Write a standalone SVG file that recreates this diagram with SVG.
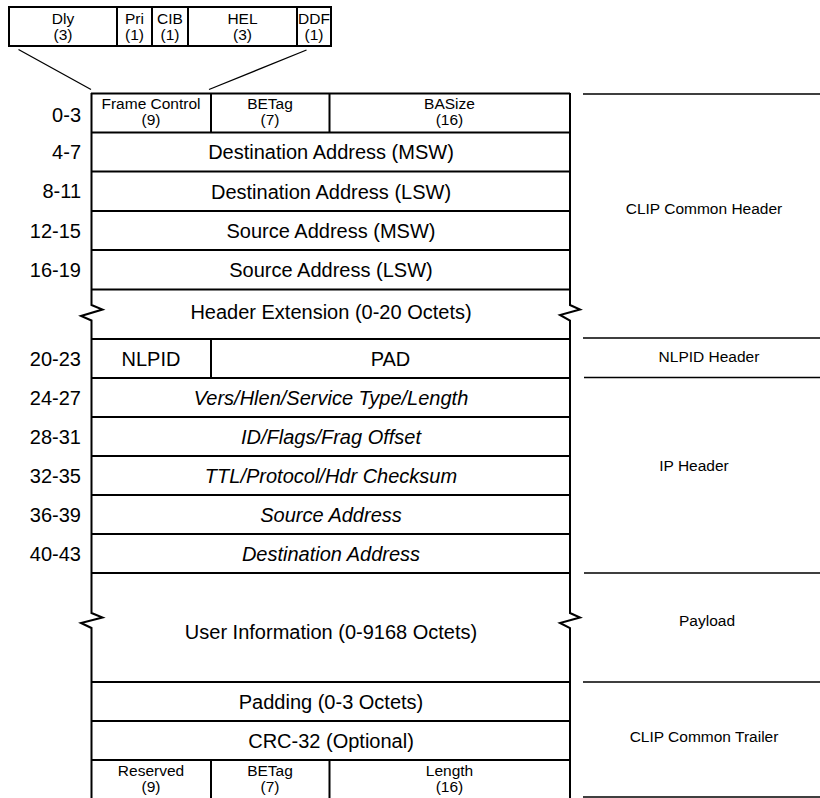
<svg xmlns="http://www.w3.org/2000/svg" width="820" height="798" viewBox="0 0 820 798">
  <style>
    .ln { fill: none; stroke: #000; stroke-width: 2; }
    .thin { fill: none; stroke: #000; stroke-width: 1.3; }
    .sec { fill: none; stroke: #000; stroke-width: 1.6; }
    text { font-family: "Liberation Sans", Arial, sans-serif; fill: #000; }
    .big { font-size: 20px; text-anchor: middle; }
    .it { font-style: italic; }
    .sm { font-size: 15.5px; text-anchor: middle; }
    .off { font-size: 20px; text-anchor: end; }
    .lbl { font-size: 15.5px; text-anchor: middle; }
  </style>

  <!-- Frame Control bit breakdown -->
  <g id="frame-control-bits">
    <rect class="ln" x="9" y="7" width="322" height="39"/>
    <path class="ln" d="M117,7 V46 M152,7 V46 M188,7 V46 M297,7 V46"/>
    <text class="sm" x="63" y="24">Dly</text>
    <text class="sm" x="63" y="40">(3)</text>
    <text class="sm" x="134.5" y="24">Pri</text>
    <text class="sm" x="134.5" y="40">(1)</text>
    <text class="sm" x="170" y="24">CIB</text>
    <text class="sm" x="170" y="40">(1)</text>
    <text class="sm" x="242.5" y="24">HEL</text>
    <text class="sm" x="242.5" y="40">(3)</text>
    <text class="sm" x="314" y="24">DDF</text>
    <text class="sm" x="314" y="40">(1)</text>
  </g>

  <!-- expansion lines from the Frame Control field -->
  <g id="connectors">
    <path class="thin" d="M18.5,49.5 L91,89.5"/>
    <path class="thin" d="M306.5,50 L209,89.5"/>
  </g>

  <!-- packet frame: outer edges with break marks -->
  <g id="frame">
    <path class="ln" d="M91.5,93 V305 L102.5,309.5 L81,316 L91.5,320.5 V613 L102.5,617.5 L81,623 L91.5,628 V798"/>
    <path class="ln" d="M570,93 V305 L580,309.5 L560,315 L570,320.5 V613 L580,617.5 L560,623 L570,628 V798"/>
    <path class="ln" d="M91,93.5 H570 M91,132.5 H570 M91,171.5 H570 M91,211 H570 M91,250 H570 M91,289.5 H570 M91,339 H570 M91,378 H570 M91,417 H570 M91,456 H570 M91,495 H570 M91,534 H570 M91,573 H570 M91,682 H570 M91,721 H570 M91,760 H570"/>
  </g>

  <!-- octet offsets -->
  <g id="offsets">
    <text class="off" x="81" y="122">0-3</text>
    <text class="off" x="81" y="159">4-7</text>
    <text class="off" x="81" y="198">8-11</text>
    <text class="off" x="81" y="238">12-15</text>
    <text class="off" x="81" y="277">16-19</text>
    <text class="off" x="81" y="366">20-23</text>
    <text class="off" x="81" y="405">24-27</text>
    <text class="off" x="81" y="444">28-31</text>
    <text class="off" x="81" y="483">32-35</text>
    <text class="off" x="81" y="522">36-39</text>
    <text class="off" x="81" y="561">40-43</text>
  </g>

  <!-- CLIP common header -->
  <g id="word-0">
    <path class="ln" d="M211,93 V132.5 M329.5,93 V132.5"/>
    <text class="sm" x="151" y="109">Frame Control</text>
    <text class="sm" x="151" y="125">(9)</text>
    <text class="sm" x="270" y="109">BETag</text>
    <text class="sm" x="270" y="125">(7)</text>
    <text class="sm" x="449.5" y="109">BASize</text>
    <text class="sm" x="449.5" y="125">(16)</text>
  </g>
  <g id="dst-msw"><text class="big" x="331" y="159">Destination Address (MSW)</text></g>
  <g id="dst-lsw"><text class="big" x="331" y="198.5">Destination Address (LSW)</text></g>
  <g id="src-msw"><text class="big" x="331" y="238">Source Address (MSW)</text></g>
  <g id="src-lsw"><text class="big" x="331" y="277">Source Address (LSW)</text></g>
  <g id="hdr-ext"><text class="big" x="331" y="319">Header Extension (0-20 Octets)</text></g>

  <!-- NLPID header -->
  <g id="nlpid">
    <path class="ln" d="M211,339 V378"/>
    <text class="big" x="151" y="366">NLPID</text>
    <text class="big" x="390.5" y="366">PAD</text>
  </g>

  <!-- IP header -->
  <g id="ip-1"><text class="big it" x="331" y="405">Vers/Hlen/Service Type/Length</text></g>
  <g id="ip-2"><text class="big it" x="331" y="444">ID/Flags/Frag Offset</text></g>
  <g id="ip-3"><text class="big it" x="331" y="483">TTL/Protocol/Hdr Checksum</text></g>
  <g id="ip-4"><text class="big it" x="331" y="522">Source Address</text></g>
  <g id="ip-5"><text class="big it" x="331" y="561">Destination Address</text></g>

  <!-- payload and trailer -->
  <g id="user-info"><text class="big" x="331" y="639">User Information (0-9168 Octets)</text></g>
  <g id="padding"><text class="big" x="331" y="709">Padding (0-3 Octets)</text></g>
  <g id="crc"><text class="big" x="331" y="748">CRC-32 (Optional)</text></g>
  <g id="trailer-word">
    <path class="ln" d="M211,760 V798 M329.5,760 V798"/>
    <text class="sm" x="151" y="776">Reserved</text>
    <text class="sm" x="151" y="792">(9)</text>
    <text class="sm" x="270" y="776">BETag</text>
    <text class="sm" x="270" y="792">(7)</text>
    <text class="sm" x="449.5" y="776">Length</text>
    <text class="sm" x="449.5" y="792">(16)</text>
  </g>

  <!-- section brackets on the right -->
  <g id="sections">
    <path class="sec" d="M583,94 H820 M583,338 H820 M584,377.5 H820 M584,573 H820 M583,682 H820"/>
    <path class="sec" d="M583,797 H820" stroke="#888"/>
    <text class="lbl" x="704" y="214">CLIP Common Header</text>
    <text class="lbl" x="709" y="362">NLPID Header</text>
    <text class="lbl" x="694" y="471">IP Header</text>
    <text class="lbl" x="707" y="626">Payload</text>
    <text class="lbl" x="704" y="742">CLIP Common Trailer</text>
  </g>
</svg>
